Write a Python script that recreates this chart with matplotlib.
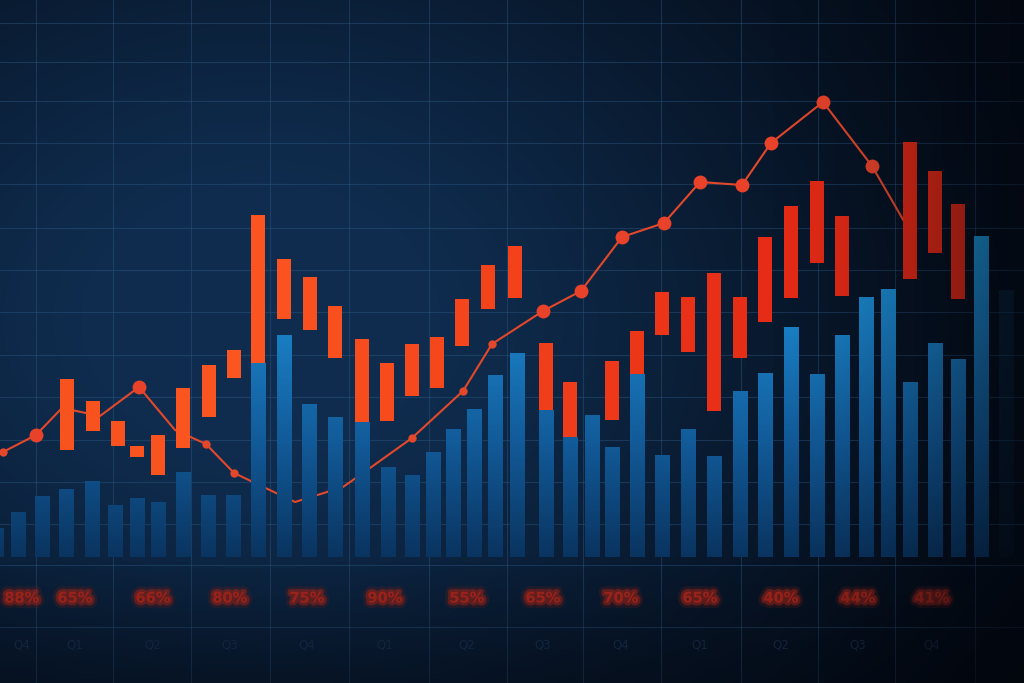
import numpy as np
import matplotlib
matplotlib.use("Agg")
import matplotlib.pyplot as plt
import matplotlib.patheffects as pe
from matplotlib.colors import LinearSegmentedColormap, to_rgb

# ---------------- data (baseline = 0) ----------------
blue_x = [-3, 18, 42, 66, 92, 115, 137, 158, 183, 208, 233, 258, 284, 309, 335,
          362, 388, 412, 433, 453, 474, 495, 517, 546, 570, 592, 612, 637, 662,
          688, 714, 740, 765, 791, 817, 842, 866, 888, 910, 935, 958, 981, 1006]
blue_val = [29, 45, 61, 68, 76, 52, 59, 55, 85, 62, 62, 194, 222, 153, 140,
            135, 90, 82, 105, 128, 148, 182, 204, 147, 120, 142, 110, 183, 102,
            128, 101, 166, 184, 230, 183, 222, 260, 268, 175, 214, 198, 321, 267]

orange_x = [67, 93, 118, 137, 158, 183, 209, 234, 258, 284, 310, 335, 362, 387,
            412, 437, 462, 488, 515, 546, 570, 612, 637, 662, 688, 714, 740, 765,
            791, 817, 842, 910, 935, 958]
orange_low = [107, 126, 111, 100, 82, 109, 140, 179, 194, 238, 227, 199, 135, 136,
              161, 169, 211, 248, 259, 147, 120, 137, 183, 222, 205, 146, 199, 235,
              259, 294, 261, 278, 304, 258]
orange_high = [178, 156, 136, 111, 122, 169, 192, 207, 342, 298, 280, 251, 218, 194,
               213, 220, 258, 292, 311, 214, 175, 196, 226, 265, 260, 284, 260, 320,
               351, 376, 341, 415, 386, 353]

line_x = [3, 36, 62, 100, 139, 175, 206, 234, 295, 343, 370, 412, 463, 492,
          543, 581, 622, 664, 700, 742, 771, 823, 872, 905]
line_y = [105, 122, 149, 141, 170, 127, 113, 84, 55, 70, 89, 119, 166, 213,
          246, 266, 320, 334, 375, 372, 414, 455, 391, 334]
line_marker = ["s", "b", "", "", "b", "", "s", "s", "", "", "", "s", "s", "s",
               "b", "b", "b", "b", "b", "b", "b", "b", "b", ""]

label_x = [22, 75, 153, 230, 307, 385, 467, 543, 621, 700, 781, 858, 932]
label_txt = ["88%", "65%", "66%", "80%", "75%", "90%", "55%", "65%", "70%",
             "65%", "40%", "44%", "41%"]
sub_txt = ["Q4", "Q1", "Q2", "Q3", "Q4", "Q1", "Q2", "Q3", "Q4", "Q1", "Q2", "Q3", "Q4"]

# ---------------- figure ----------------
W, H = 1024, 683
BASE = 557  # pixel row of the baseline
fig = plt.figure(figsize=(W / 100, H / 100), dpi=100)
ax = fig.add_axes([0, 0, 1, 1])
ax.set_xlim(0, W)
ax.set_ylim(BASE - H, BASE)

# background gradient
yy, xx = np.mgrid[0:H, 0:W]
navy = np.array(to_rgb("#0f2c4e"))
dark = np.array(to_rgb("#03070f"))
w = np.exp(-((xx - 260) / 580.0) ** 2 - ((yy - 320) / 450.0) ** 2)
w = np.clip(w * 1.1, 0, 1)[..., None]
bg = dark + (navy - dark) * w
ax.imshow(bg, extent=[0, W, BASE - H, BASE], aspect="auto", zorder=0,
          interpolation="bilinear")

# grid via ticks
for s in ax.spines.values():
    s.set_visible(False)
grid_y_px = [23, 62, 101, 143, 184, 228, 270, 312, 355, 397, 440, 482, 524, 565, 627]
grid_x_px = [36, 113, 191, 270, 349, 429, 507, 583, 661, 741, 818, 895, 975]
ax.set_yticks([BASE - v for v in grid_y_px])
ax.set_xticks(grid_x_px)
ax.tick_params(length=0, labelbottom=False, labelleft=False)
ax.grid(True, color="#2f5a86", alpha=0.42, lw=0.8, zorder=1)
ax.set_axisbelow(True)

# red/orange line (behind bars)
ax.plot(line_x, line_y, color="#e4482a", lw=1.5, zorder=2.5, solid_capstyle="round")
bx = [x for x, m in zip(line_x, line_marker) if m == "b"]
by = [y for y, m in zip(line_y, line_marker) if m == "b"]
sx = [x for x, m in zip(line_x, line_marker) if m == "s"]
sy = [y for y, m in zip(line_y, line_marker) if m == "s"]
ax.plot(bx, by, "o", ms=10, color="#e8432a", zorder=2.6, mec="none")
ax.plot(sx, sy, "o", ms=6, color="#e4482a", zorder=2.6, mec="none")

# blue gradient bars
blue_cmap = LinearSegmentedColormap.from_list(
    "b", ["#0a3460", "#125a98", "#1a7fc4", "#1e9ee2"])
bars = ax.bar(blue_x, blue_val, width=15, color="none", zorder=3, lw=0)
grad_n = 256
for b in bars:
    x0, h, wd = b.get_x(), b.get_height(), b.get_width()
    g = np.linspace(0, h / 340.0, grad_n)[:, None]
    alpha = 0.15 if b.get_x() > 995 else 1.0
    im = ax.imshow(g, extent=[x0, x0 + wd, 0, h], origin="lower", cmap=blue_cmap,
                   vmin=0, vmax=1, aspect="auto", zorder=3, alpha=alpha)
    im.set_clip_path(b)

# orange/red floating bars
or_cmap = LinearSegmentedColormap.from_list(
    "o", ["#f6521f", "#fb5520", "#f3421b", "#e62c16", "#e02614"])
or_cols = [or_cmap(min(max(x / 1000.0, 0), 1)) for x in orange_x]
heights = [hi - lo for lo, hi in zip(orange_low, orange_high)]
ax.bar(orange_x, heights, bottom=orange_low, width=14, color=or_cols, lw=0, zorder=3.2)

# bottom labels (blurred red) and faint sublabels
for x, t in zip(label_x, label_txt):
    ax.text(x, BASE - 598, t, color="#b8281c", fontsize=10.5, fontweight="bold",
            ha="center", va="center", alpha=0.6, zorder=4,
            path_effects=[pe.Stroke(linewidth=8, foreground="#7e2016", alpha=0.25),
                          pe.Stroke(linewidth=4, foreground="#a3261a", alpha=0.55),
                          pe.Normal()])
for x, t in zip(label_x, sub_txt):
    ax.text(x, BASE - 645, t, color="#1a3150", fontsize=8.5, ha="center",
            va="center", zorder=4, alpha=0.9)

# vignette overlay (darkens right side and bottom)
t = np.clip((xx - 760) / 264.0, 0, 1)
v = 0.55 * t ** 1.6 + 0.35 * np.clip((yy - 560) / 123.0, 0, 1)
v = np.clip(v, 0, 0.8)
over = np.zeros((H, W, 4))
over[..., :3] = to_rgb("#02050c")
over[..., 3] = v
ax.imshow(over, extent=[0, W, BASE - H, BASE], aspect="auto", zorder=10,
          interpolation="bilinear")

ax.set_xlim(0, W)
ax.set_ylim(BASE - H, BASE)
fig.savefig("out.png", dpi=100)
